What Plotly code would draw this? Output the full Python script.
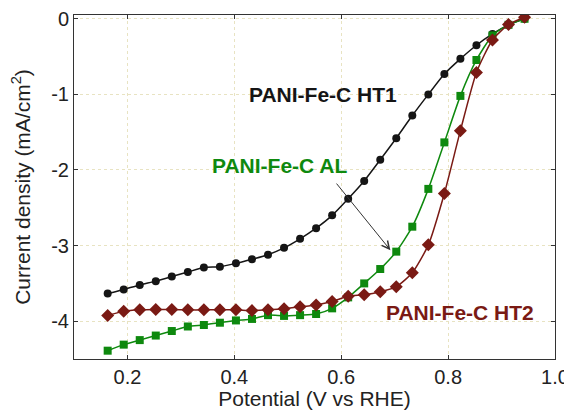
import plotly.graph_objects as go

potential = [round(0.163 + 0.03 * i, 3) for i in range(27)]

ht1 = [-3.635, -3.58, -3.52, -3.47, -3.41, -3.35, -3.29, -3.28, -3.235, -3.18,
       -3.12, -3.03, -2.91, -2.77, -2.60, -2.38, -2.145, -1.865, -1.58, -1.28,
       -1.00, -0.73, -0.53, -0.35, -0.20, -0.08, 0.0]
al = [-4.39, -4.31, -4.25, -4.19, -4.13, -4.07, -4.05, -4.02, -3.99, -3.97,
      -3.92, -3.93, -3.92, -3.905, -3.83, -3.685, -3.50, -3.31, -3.08, -2.75,
      -2.25, -1.635, -1.02, -0.545, -0.22, -0.08, 0.0]
ht2 = [-3.925, -3.87, -3.85, -3.845, -3.845, -3.85, -3.85, -3.85, -3.85, -3.86,
       -3.85, -3.835, -3.81, -3.785, -3.74, -3.67, -3.65, -3.61, -3.545, -3.36,
       -2.99, -2.31, -1.48, -0.71, -0.28, -0.077, 0.02]

x_ticks = [0.2, 0.4, 0.6, 0.8, 1.0]
x_ticktext = ["0.2", "0.4", "0.6", "0.8", "1.0"]
y_ticks = [0, -1, -2, -3, -4]
y_ticktext = ["0", "-1", "-2", "-3", "-4"]

BLACK = "#151515"
GREEN = "#0e890e"
RED = "#7a1a14"
FONT = "Liberation Sans, Arial, sans-serif"
TXT = "#222222"

fig = go.Figure()
fig.add_trace(go.Scatter(x=potential, y=ht1, mode="lines+markers", name="HT1",
                         line=dict(color=BLACK, width=1.5, shape="spline", smoothing=0.6),
                         marker=dict(symbol="circle", size=8, color=BLACK)))
fig.add_trace(go.Scatter(x=potential, y=al, mode="lines+markers", name="AL",
                         line=dict(color=GREEN, width=1.5, shape="spline", smoothing=0.6),
                         marker=dict(symbol="square", size=8, color=GREEN)))
fig.add_trace(go.Scatter(x=potential, y=ht2, mode="lines+markers", name="HT2",
                         line=dict(color=RED, width=1.5, shape="spline", smoothing=0.6),
                         marker=dict(symbol="diamond", size=10, color=RED)))

fig.add_annotation(x=0.566, y=-1.0, text="<b>PANI-Fe-C HT1</b>", showarrow=False,
                   font=dict(size=21, color=BLACK, family=FONT))
fig.add_annotation(x=0.484, y=-1.94, text="<b>PANI-Fe-C AL</b>", showarrow=False,
                   font=dict(size=21, color=GREEN, family=FONT))
fig.add_annotation(x=0.822, y=-3.89, text="<b>PANI-Fe-C HT2</b>", showarrow=False,
                   font=dict(size=21, color=RED, family=FONT))
fig.add_annotation(x=0.692, y=-3.06, ax=0.589, ay=-2.16, axref="x", ayref="y",
                   text="", showarrow=True, arrowhead=5, arrowsize=1.5,
                   arrowwidth=1, arrowcolor="#333333")

axis_common = dict(showline=True, linecolor="#333333", linewidth=1, mirror="ticks",
                   ticks="inside", ticklen=4, tickcolor="#333333",
                   showgrid=True, gridcolor="#e8e3c2", griddash="dot", gridwidth=1,
                   zeroline=False, automargin=False, ticklabeloverflow="allow",
                   tickfont=dict(size=20, color=TXT, family=FONT))

fig.update_xaxes(range=[0.1, 1.0], tickvals=x_ticks, ticktext=x_ticktext,
                 title=dict(text="Potential (V vs RHE)", font=dict(size=21, color=TXT, family=FONT)),
                 **axis_common)
fig.update_yaxes(range=[-4.5, 0.05], tickvals=y_ticks, ticktext=y_ticktext,
                 title=dict(text="Current density (mA/cm<sup>2</sup>)", font=dict(size=21, color=TXT, family=FONT)),
                 **axis_common)

# page body has an 8px default margin, so the figure is shifted by 8px
fig.update_layout(width=564, height=402, showlegend=False,
                  plot_bgcolor="white", paper_bgcolor="white",
                  margin=dict(l=66, r=17, t=7, b=51),
                  font=dict(family=FONT))

fig.write_html("out.html")
